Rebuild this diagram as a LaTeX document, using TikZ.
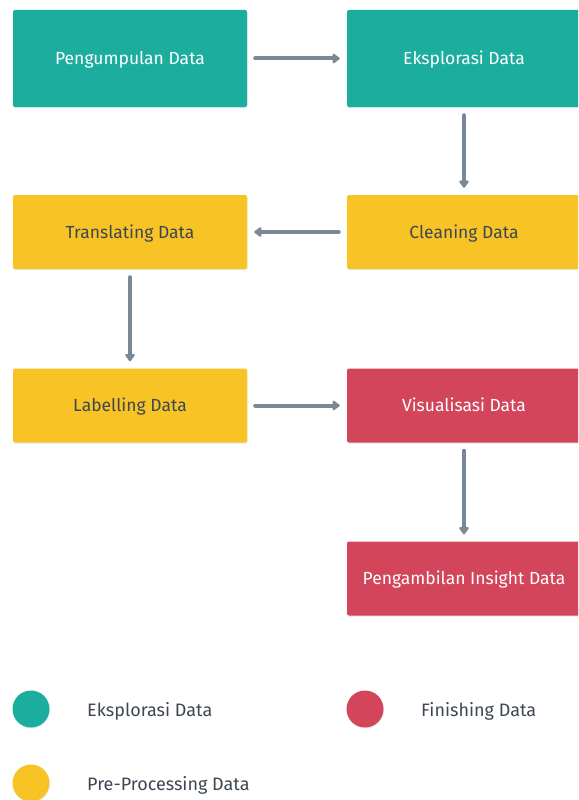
\documentclass[tikz,border=0pt]{standalone}
\usepackage{fontspec}
\setmainfont{Fira Sans}
\usepackage{tikz}
\usepackage{xcolor}
\usetikzlibrary{calc}
\usetikzlibrary{positioning}
\usetikzlibrary{arrows.meta}
\usetikzlibrary{shadows}

\definecolor{tealbox}{HTML}{1BAE9F}
\definecolor{yellowbox}{HTML}{F7C325}
\definecolor{redbox}{HTML}{D2455B}
\definecolor{arrowgray}{HTML}{7A8794}
\definecolor{darktext}{HTML}{3D4752}

\tikzset{
  box/.style={rounded corners=2pt, minimum width=234pt, inner sep=0pt,
    font=\fontsize{17.5}{20}\selectfont, text height=12pt, text depth=0pt,
    drop shadow={shadow xshift=0.6pt, shadow yshift=-1.2pt, opacity=0.18}},
  explore/.style={box, fill=tealbox, text=white, minimum height=97pt},
  prepro/.style={box, fill=yellowbox, text=darktext, minimum height=74pt},
  finish/.style={box, fill=redbox, text=white, minimum height=74pt},
  flow/.style={arrowgray, line width=4pt, line cap=round,
    -{Triangle[length=8pt,width=11pt,round]}},
  dot/.style={circle, minimum size=37pt, inner sep=0pt,
    drop shadow={shadow xshift=0.5pt, shadow yshift=-1pt, opacity=0.15}},
  legendtext/.style={anchor=west, inner sep=0pt, text=darktext,
    text height=12pt, text depth=0pt, font=\fontsize{18}{20}\selectfont}
}

\begin{document}
\begin{tikzpicture}[x=1pt,y=-1pt]
\useasboundingbox (0,0) rectangle (578,800);
\clip (0,0) rectangle (578,800);

% alur proses
\node[explore] (kumpul) at (130,58.5) {Pengumpulan Data};
\node[explore] (eksplor) at (464,58.5) {Eksplorasi Data};
\node[prepro] (clean) at (464,232) {Cleaning Data};
\node[prepro] (translate) at (130,232) {Translating Data};
\node[prepro] (label) at (130,405.5) {Labelling Data};
\node[finish] (visual) at (464,405.5) {Visualisasi Data};
\node[finish] (insight) at (464,578.5) {Pengambilan Insight Data};

\draw[flow] ($(kumpul.east)+(8,0)$) -- ($(eksplor.west)+(-7,0)$);
\draw[flow] ($(eksplor.south)+(0,8)$) -- ($(clean.north)+(0,-7)$);
\draw[flow] ($(clean.west)+(-8,0)$) -- ($(translate.east)+(7,0)$);
\draw[flow] ($(translate.south)+(0,8)$) -- ($(label.north)+(0,-7)$);
\draw[flow] ($(label.east)+(8,0)$) -- ($(visual.west)+(-7,0)$);
\draw[flow] ($(visual.south)+(0,8)$) -- ($(insight.north)+(0,-7)$);

% legenda
\node[dot, fill=tealbox] (dotA) at (31,709) {};
\node[legendtext] (legA) at (87,710) {Eksplorasi Data};
\node[dot, fill=redbox] (dotB) at (365,709) {};
\node[legendtext] (legB) at (421,710) {Finishing Data};
\node[dot, fill=yellowbox] (dotC) at (31,783) {};
\node[legendtext] (legC) at (87,784) {Pre-Processing Data};

\end{tikzpicture}
\end{document}
